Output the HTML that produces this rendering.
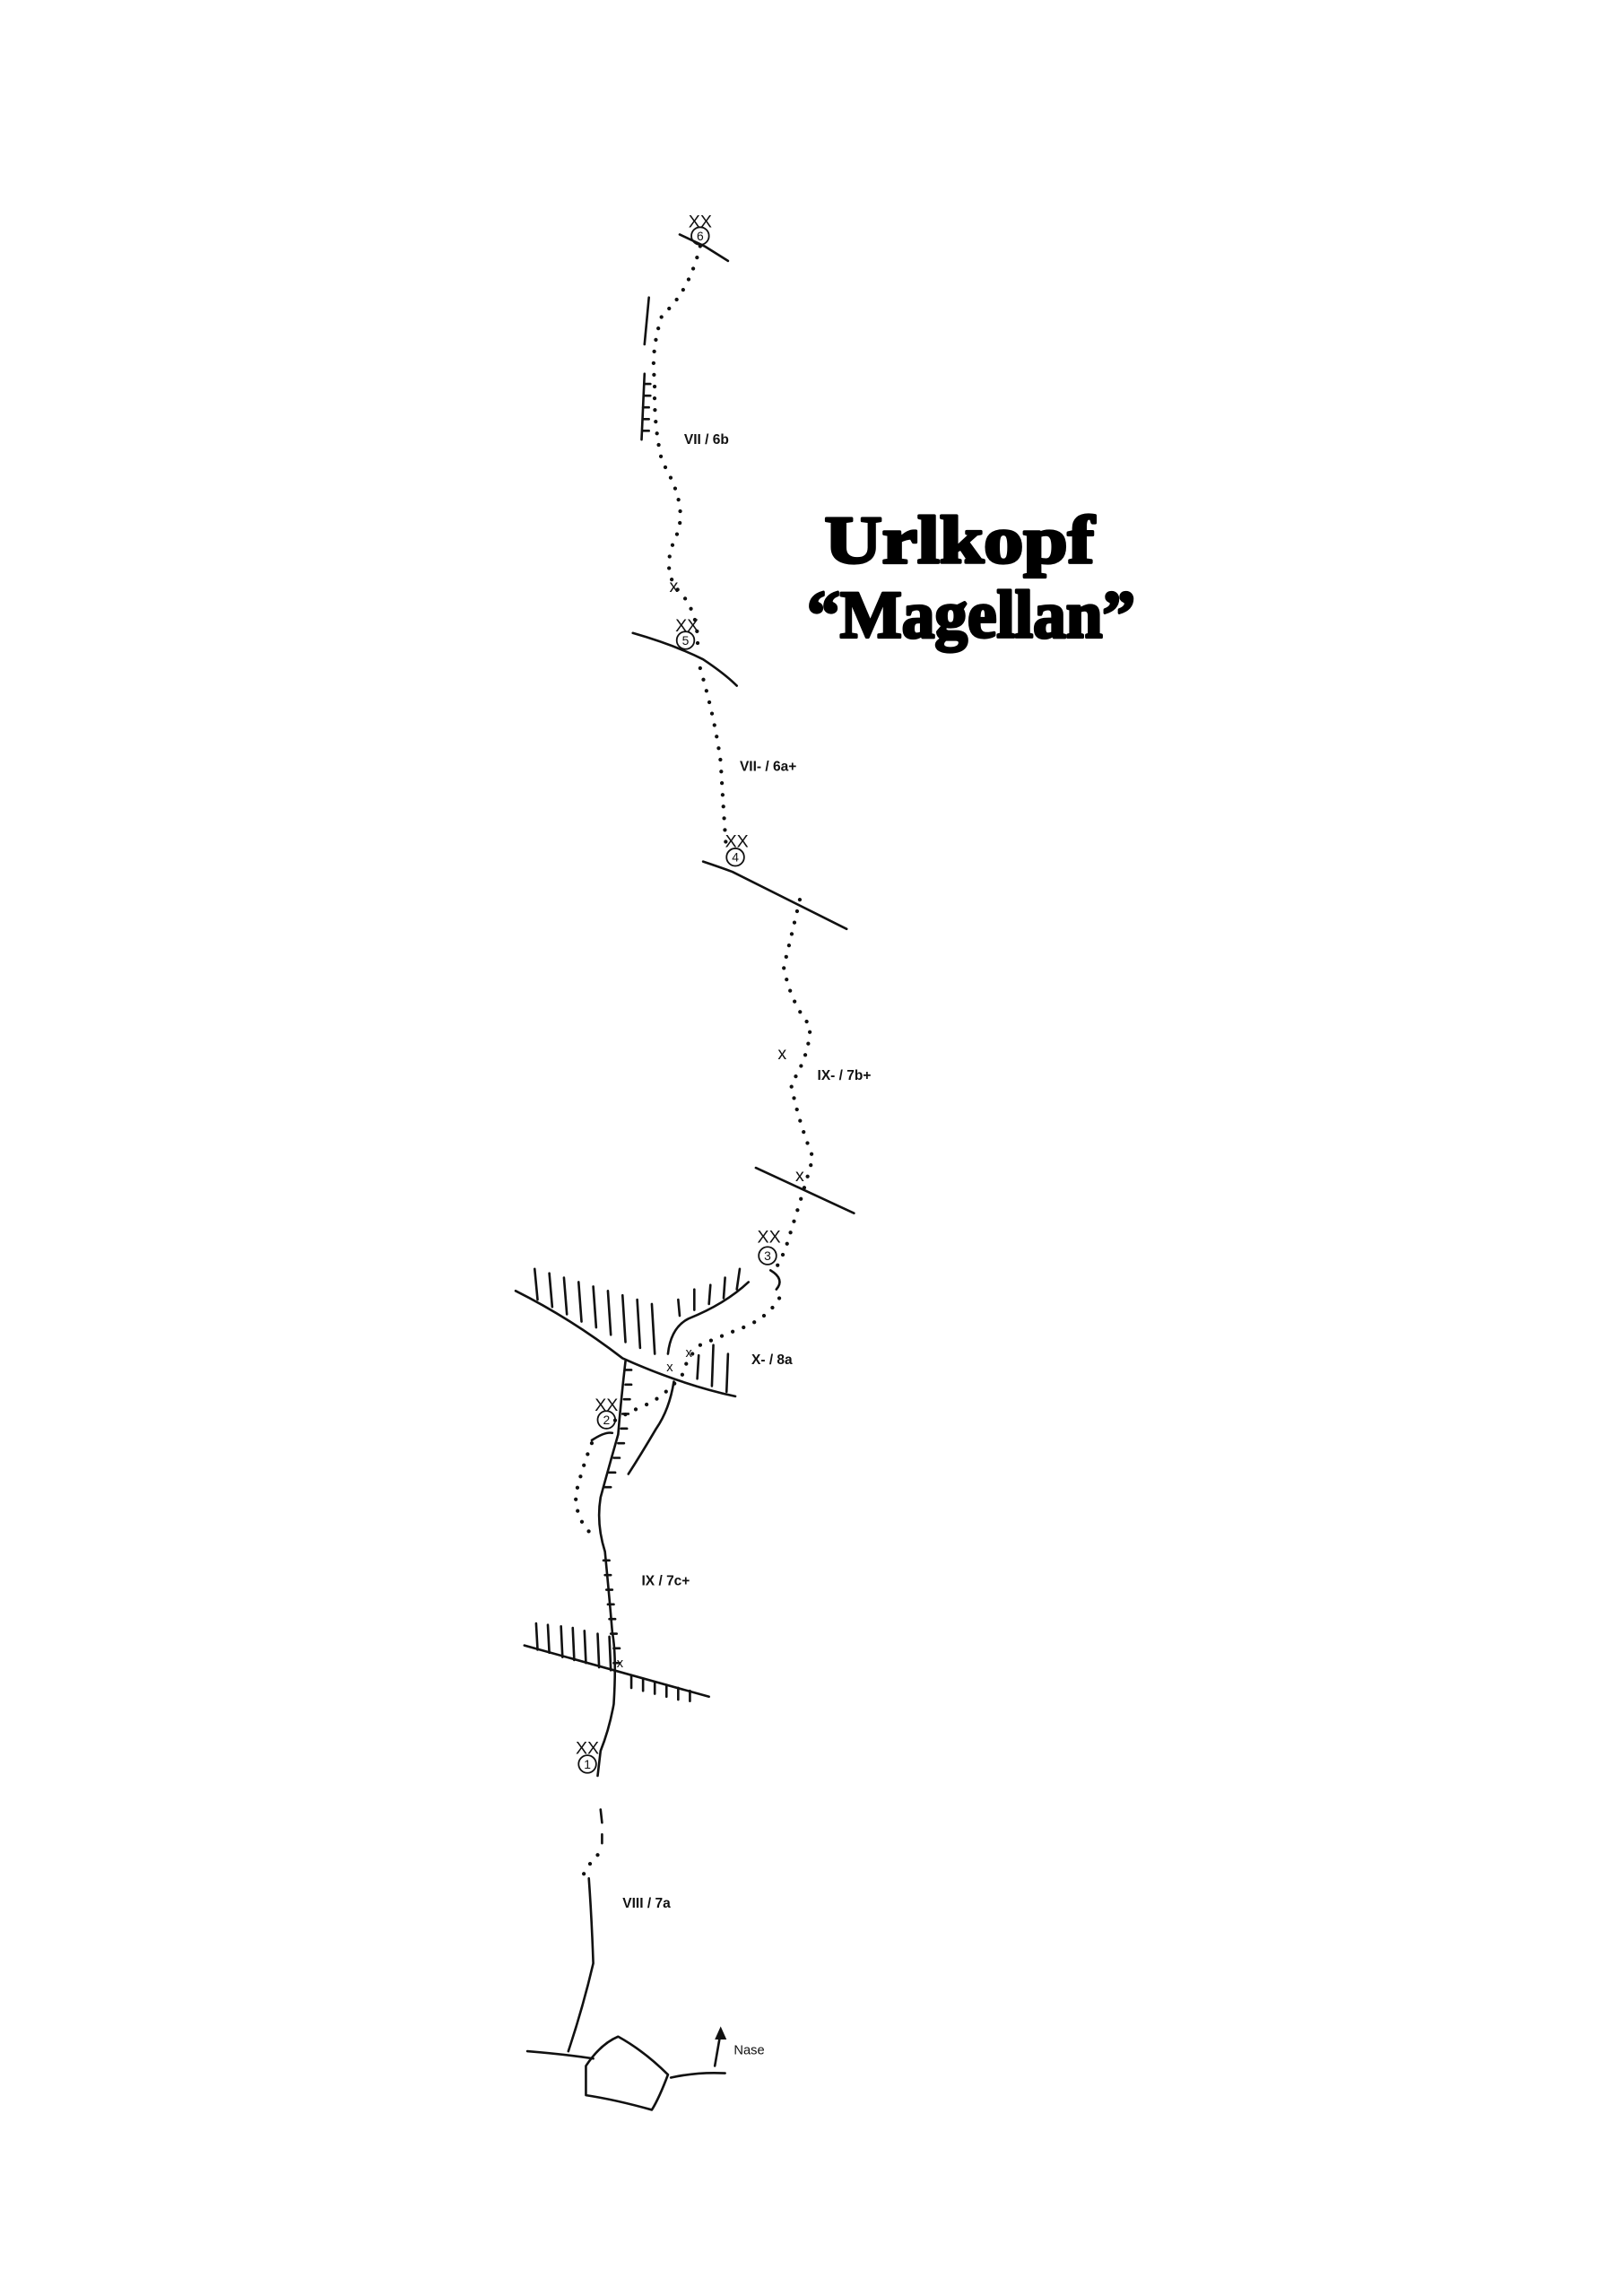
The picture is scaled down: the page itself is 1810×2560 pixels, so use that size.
<!DOCTYPE html>
<html><head><meta charset="utf-8"><style>
html,body{margin:0;padding:0;background:#fff;}
svg{display:block;}
.l{fill:none;stroke:#111;stroke-width:1.6;stroke-linecap:round;stroke-linejoin:round;}
.d{fill:none;stroke:#111;stroke-width:2.6;stroke-linecap:round;stroke-dasharray:0 8;}
.t{font-family:"Liberation Sans",sans-serif;font-weight:bold;font-size:9.5px;fill:#111;}
.x{font-family:"Liberation Sans",sans-serif;font-size:12px;fill:#111;}
.n{font-family:"Liberation Sans",sans-serif;font-size:9px;fill:#111;}
.h{font-family:"Liberation Serif",serif;font-weight:bold;font-size:46px;fill:#000;stroke:#000;stroke-width:2;stroke-linejoin:round;}
</style></head><body>
<svg width="1810" height="2560" viewBox="0 0 1108 1567" xmlns="http://www.w3.org/2000/svg">
<rect width="1108" height="1567" fill="#fff"/>
<text class="h" x="563" y="384" textLength="184" lengthAdjust="spacingAndGlyphs">Urlkopf</text>
<text class="h" x="551" y="435" textLength="224" lengthAdjust="spacingAndGlyphs">“Magellan”</text>

<!-- station 6 -->
<path class="l" d="M464,160 L481,168 L497,178"/>
<path class="l" d="M443,203 L440,235 M440,255 L438,300"/>
<path class="l" d="M440,262 h4 M440,270 h4 M439,278 h4 M439,286 h4 M439,294 h4"/>
<path class="d" d="M478,168 Q470,200 452,215 Q444,240 447,260 Q446,290 452,315 Q470,345 462,365 Q450,390 465,405 Q478,420 476,445"/>
<text class="t" x="467" y="303">VII / 6b</text>
<text class="x" x="457" y="404">x</text>

<!-- station 5 -->
<path class="l" d="M432,432 Q460,440 480,450 Q495,460 503,468"/>
<path class="d" d="M478,456 Q488,490 492,520 Q494,555 496,582"/>
<text class="t" x="505" y="526">VII- / 6a+</text>

<!-- station 4 -->
<path class="l" d="M480,588 Q492,592 500,595 L578,634"/>
<path class="d" d="M546,614 Q540,640 535,660 Q540,685 553,700 Q553,720 540,740 Q545,765 555,790 Q548,815 540,840 Q536,855 530,865"/>
<text class="x" x="531" y="723">x</text>
<text class="t" x="558" y="737">IX- / 7b+</text>
<path class="l" d="M516,797 L583,828"/>
<text class="x" x="543" y="806">x</text>

<!-- station 3 bracket -->
<path class="l" d="M526,867 Q536,873 530,880"/>

<!-- big roof -->
<path class="l" d="M352,881 Q390,900 425,927 Q465,945 502,953"/>
<path class="l" d="M365,866 L367,887 M375,869 L377,892 M385,872 L387,897 M395,875 L397,902 M405,878 L407,906 M415,881 L417,911 M425,884 L427,916 M435,887 L437,920 M445,890 L447,924"/>
<path class="l" d="M477,925 L476,941 M487,918 L486,946 M497,924 L496,950"/>
<path class="l" d="M456,924 Q458,906 470,900 Q495,890 511,875"/>
<path class="l" d="M464,898 L463,887 M474,894 L474,880 M484,890 L485,877 M494,886 L495,872 M503,880 L505,866"/>
<path class="l" d="M460,943 Q457,962 448,975 Q438,992 429,1006"/>
<path class="d" d="M532,886 Q525,898 510,905 Q492,912 478,918 Q468,928 466,938 Q452,955 438,960 Q425,966 419,970"/>
<text class="x" x="468" y="926" style="font-size:9px">x</text>
<text class="x" x="455" y="936" style="font-size:9px">x</text>
<text class="t" x="513" y="931">X- / 8a</text>

<!-- main crack -->
<path class="l" d="M427,929 Q424,955 422,979 Q416,1000 410,1022 Q407,1040 413,1059 Q416,1090 418,1114 Q421,1130 419,1163 Q416,1180 410,1195 L408,1212"/>
<path class="l" d="M427,935 h4 M427,945 h4 M426,955 h4 M425,965 h4 M424,975 h4 M422,985 h4 M419,995 h4 M416,1005 h4 M413,1015 h4 M412,1065 h4 M413,1075 h4 M414,1085 h4 M415,1095 h4 M416,1105 h4 M417,1115 h4 M419,1125 h4 M419,1135 h4"/>
<path class="l" d="M404,983 Q413,977 418,978"/>
<path class="d" d="M404,985 Q398,1000 393,1020 Q393,1038 405,1048"/>
<text class="t" x="438" y="1082">IX / 7c+</text>

<!-- lower roof -->
<path class="l" d="M358,1123 L484,1158"/>
<path class="l" d="M366,1108 L367,1126 M374,1109 L375,1128 M383,1110 L384,1131 M391,1111 L392,1133 M399,1113 L400,1135 M408,1115 L409,1138 M416,1117 L417,1140"/>
<path class="l" d="M431,1144 v8 M439,1146 v8 M447,1148 v8 M455,1150 v8 M463,1152 v8 M471,1154 v7"/>
<text class="x" x="421" y="1138" style="font-size:9px">x</text>

<!-- lower part -->
<path class="l" d="M410,1235 L411,1244 M411,1252 L411,1258"/>
<path class="d" d="M408,1266 Q402,1272 398,1280"/>
<path class="l" d="M402,1282 Q404,1310 405,1340 Q398,1370 388,1400"/>
<text class="t" x="425" y="1302">VIII / 7a</text>

<!-- base -->
<path class="l" d="M360,1400 Q385,1402 405,1405"/>
<path class="l" d="M400,1410 Q410,1395 422,1390 Q440,1400 456,1416 Q450,1432 445,1440 Q420,1433 400,1430 Z"/>
<path class="l" d="M458,1418 Q476,1414 495,1415"/>
<path class="l" d="M488,1410 L492,1387"/>
<path d="M492,1383 L488,1392 L496,1392 Z" fill="#111"/>
<text class="n" x="501" y="1402">Nase</text>

<!-- stations -->
<g class="x">
<text x="470" y="155">XX</text>
<text x="461" y="431">XX</text>
<text x="495" y="578">XX</text>
<text x="517" y="848">XX</text>
<text x="406" y="963">XX</text>
<text x="393" y="1197">XX</text>
</g>
<g fill="none" stroke="#111" stroke-width="1.1">
<circle cx="478" cy="161" r="6"/><circle cx="468" cy="437" r="6"/><circle cx="502" cy="585" r="6"/>
<circle cx="524" cy="857" r="6"/><circle cx="414" cy="969" r="6"/><circle cx="401" cy="1204" r="6"/>
</g>
<g class="n" text-anchor="middle" style="font-size:8.5px">
<text x="478" y="164">6</text><text x="468" y="440">5</text><text x="502" y="588">4</text>
<text x="524" y="860">3</text><text x="414" y="972">2</text><text x="401" y="1207">1</text>
</g>
</svg>
</body></html>
